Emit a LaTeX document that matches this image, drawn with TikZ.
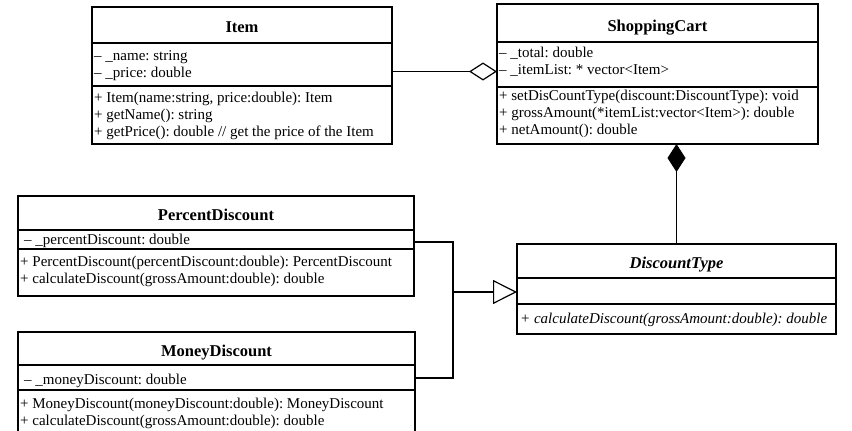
\documentclass[tikz,border=0pt]{standalone}
\usepackage{fontspec}
\setmainfont{Liberation Serif}
\usetikzlibrary{arrows.meta}
\frenchspacing
\tikzset{
  cls/.style={draw, line width=1.2pt, inner sep=0pt, outer sep=0pt, anchor=north west},
  sep/.style={line width=1.2pt},
  ttl/.style={anchor=base, inner sep=0pt, font=\fontsize{16.5}{18}\selectfont\bfseries},
  txt/.style={anchor=base west, inner sep=0pt, font=\fontsize{15}{16}\selectfont},
  conn/.style={line width=1.2pt},
  agg/.style={conn, -{Diamond[open, length=28pt, width=18pt, line width=1.2pt]}},
  comp/.style={conn, -{Diamond[length=28pt, width=18pt]}},
  gen/.style={conn, -{Triangle[open, length=24pt, width=24pt, line width=1.2pt]}}
}
\begin{document}
\begin{tikzpicture}[x=1pt, y=-1pt]
\useasboundingbox (0,0) rectangle (852,431);
\clip (0,0) rectangle (852,431);
\fill[white] (0,0) rectangle (852,431);

% Item
\node[cls, minimum width=300pt, minimum height=137pt] (item) at (92,7) {};
\draw[sep] (92,43) -- (392,43);
\draw[sep] (92,86) -- (392,86);
\node[ttl] (itemT) at (242,32) {Item};
\node[txt] (itemA1) at (94,60) {– \_name: string};
\node[txt] (itemA2) at (94,77) {– \_price: double};
\node[txt] (itemM1) at (94,102) {+ Item(name:string, price:double): Item};
\node[txt] (itemM2) at (94,119) {+ getName(): string};
\node[txt] (itemM3) at (94,136) {+ getPrice(): double // get the price of the Item};

% ShoppingCart
\node[cls, minimum width=321pt, minimum height=140pt] (cart) at (497,4) {};
\draw[sep] (497,42) -- (818,42);
\draw[sep] (497,87) -- (818,87);
\node[ttl] (cartT) at (657.5,31) {ShoppingCart};
\node[txt] (cartA1) at (499,57) {– \_total: double};
\node[txt] (cartA2) at (499,74) {– \_itemList: * vector<Item>};
\node[txt] (cartM1) at (499,100) {+ setDisCountType(discount:DiscountType): void};
\node[txt] (cartM2) at (499,117) {+ grossAmount(*itemList:vector<Item>): double};
\node[txt] (cartM3) at (499,134) {+ netAmount(): double};

% PercentDiscount
\node[cls, minimum width=396pt, minimum height=100pt] (pct) at (18,196) {};
\draw[sep] (18,230) -- (414,230);
\draw[sep] (18,249) -- (414,249);
\node[ttl] (pctT) at (216,220) {PercentDiscount};
\node[txt] (pctA1) at (24,244) {– \_percentDiscount: double};
\node[txt] (pctM1) at (20,266) {+ PercentDiscount(percentDiscount:double): PercentDiscount};
\node[txt] (pctM2) at (20,283) {+ calculateDiscount(grossAmount:double): double};

% MoneyDiscount
\node[cls, minimum width=397pt, minimum height=110pt] (money) at (18,332) {};
\draw[sep] (18,365) -- (415,365);
\draw[sep] (18,390) -- (415,390);
\node[ttl] (moneyT) at (216.5,356) {MoneyDiscount};
\node[txt] (moneyA1) at (24,384) {– \_moneyDiscount: double};
\node[txt] (moneyM1) at (20,408) {+ MoneyDiscount(moneyDiscount:double): MoneyDiscount};
\node[txt] (moneyM2) at (20,425) {+ calculateDiscount(grossAmount:double): double};

% DiscountType
\node[cls, minimum width=319pt, minimum height=90pt] (dtype) at (517,244) {};
\draw[sep] (517,278) -- (836,278);
\draw[sep] (517,304) -- (836,304);
\node[ttl, font=\fontsize{16.5}{18}\selectfont\bfseries\itshape] (dtypeT) at (676.5,268) {DiscountType};
\node[txt, font=\fontsize{15}{16}\selectfont\itshape] (dtypeM1) at (520,323) {+ calculateDiscount(grossAmount:double): double};

% connectors
\draw[agg] ([yshift=4pt]item.east) -- ([yshift=4pt]item.east -| cart.west);
\draw[comp] (dtype.north) -- (dtype.north |- cart.south);
\coordinate (junc) at (453,292);
\draw[conn] ([yshift=4pt]pct.east) -| (junc);
\draw[conn] (money.east |- 0,378) -| (junc);
\draw[gen] (junc) -- (dtype.west |- junc);
\end{tikzpicture}
\end{document}
